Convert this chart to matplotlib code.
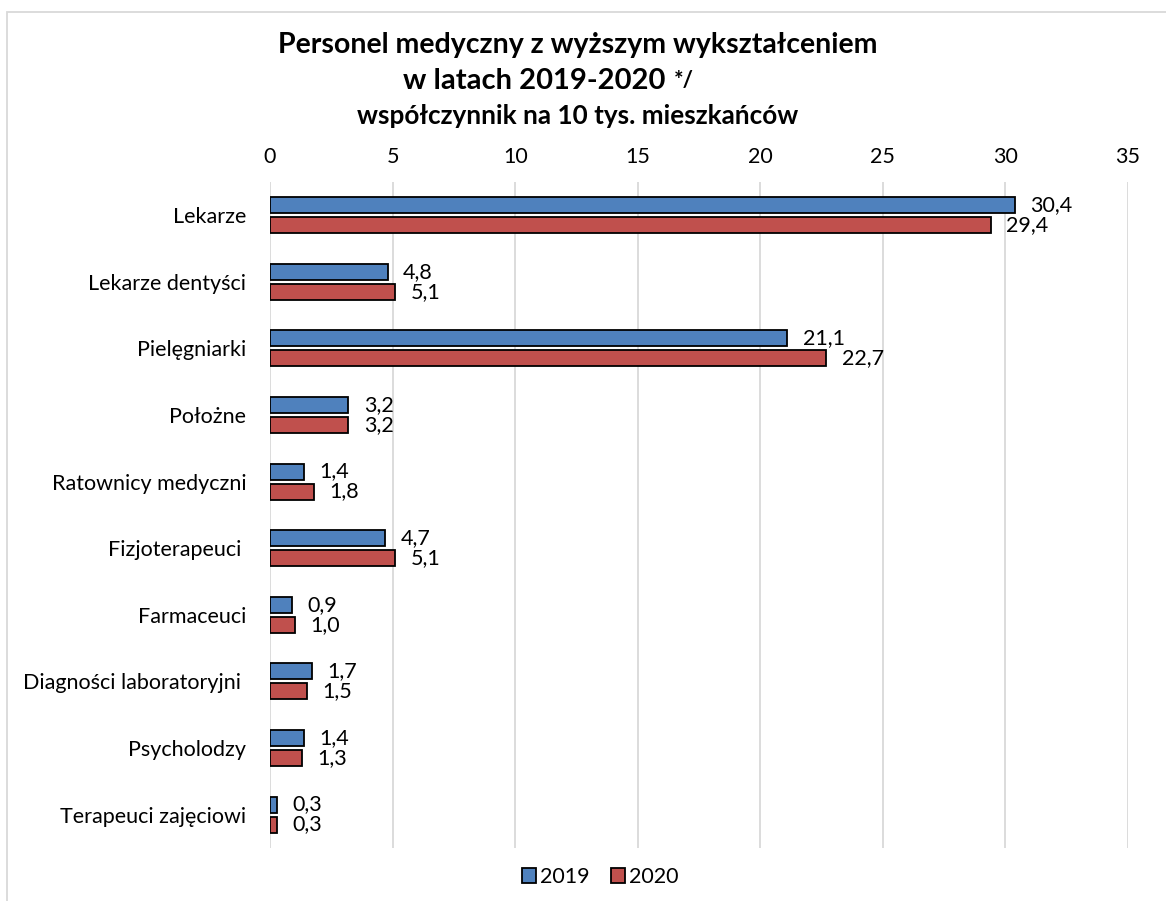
import numpy as np
import matplotlib.pyplot as plt
from matplotlib.patches import Rectangle

plt.rcParams['font.family'] = ['Lato', 'DejaVu Sans']

categories = ['Lekarze', 'Lekarze dentyści', 'Pielęgniarki', 'Położne',
              'Ratownicy medyczni', 'Fizjoterapeuci ', 'Farmaceuci',
              'Diagności laboratoryjni ', 'Psycholodzy', 'Terapeuci zajęciowi']
v2019 = [30.4, 4.8, 21.1, 3.2, 1.4, 4.7, 0.9, 1.7, 1.4, 0.3]
v2020 = [29.4, 5.1, 22.7, 3.2, 1.8, 5.1, 1.0, 1.5, 1.3, 0.3]
xticks = [0, 5, 10, 15, 20, 25, 30, 35]

blue = '#4F81BD'
red = '#C0504D'
grid = '#D9D9D9'
fs = 15.5

fig = plt.figure(figsize=(11.66, 9.01), dpi=100)
ax = fig.add_axes([0.2316, 0.0590, 0.7358, 0.7391])

y = np.arange(len(categories))
h = 0.24
gap = 0.06
ax.barh(y - h/2 - gap/2, v2019, height=h, color=blue, edgecolor='black', linewidth=1.3, label='2019', zorder=3)
ax.barh(y + h/2 + gap/2, v2020, height=h, color=red, edgecolor='black', linewidth=1.3, label='2020', zorder=3)

for i in range(len(categories)):
    ax.annotate(f'{v2019[i]:.1f}'.replace('.', ','), (v2019[i], y[i] - h/2 - gap/2),
                xytext=(11, 0), textcoords='offset points', va='center', ha='left', fontsize=fs)
    ax.annotate(f'{v2020[i]:.1f}'.replace('.', ','), (v2020[i], y[i] + h/2 + gap/2),
                xytext=(11, 0), textcoords='offset points', va='center', ha='left', fontsize=fs)

ax.set_xlim(0, 35)
ax.set_ylim(len(categories) - 0.5, -0.5)
ax.set_xticks(xticks)
ax.set_yticks(y)
ax.set_yticklabels(categories, fontsize=fs)
ax.xaxis.tick_top()
ax.tick_params(axis='x', labelsize=fs, length=0, pad=11)
ax.tick_params(axis='y', length=0, pad=17)
ax.grid(axis='x', color=grid, linewidth=1.3, zorder=0)
for s in ax.spines.values():
    s.set_visible(False)

leg = ax.legend(loc='upper center', bbox_to_anchor=(0.385, -0.0), ncol=2, frameon=False,
                fontsize=fs, handlelength=0.65, handleheight=0.65, handletextpad=0.2, columnspacing=1.0)
for p in leg.get_patches():
    p.set_linewidth(1.3)

# outer chart border
fig.add_artist(Rectangle((7/1166, -0.1), 1.2, 1 - 12/901 + 0.1, transform=fig.transFigure,
                         fill=False, edgecolor='#D9D9D9', linewidth=1.3))

xc = 578 / 1166
fig.text(xc, 1 - 45/901, 'Personel medyczny z wyższym wykształceniem', ha='center', va='center',
         fontsize=20.5, fontweight='bold')
line2 = fig.text(403 / 1166, 1 - 81/901, 'w latach 2019-2020', ha='left', va='center',
                 fontsize=21, fontweight='bold')
r = fig.canvas.get_renderer()
bb = line2.get_window_extent(renderer=r)
fig.text((bb.x1 + 8) / fig.bbox.width, 1 - 81/901, '*/', ha='left', va='center',
         fontsize=16, fontweight='bold')
fig.text(xc, 1 - 116/901, 'współczynnik na 10 tys. mieszkańców', ha='center', va='center',
         fontsize=18.8, fontweight='bold')

fig.savefig('out.png', dpi=100)
